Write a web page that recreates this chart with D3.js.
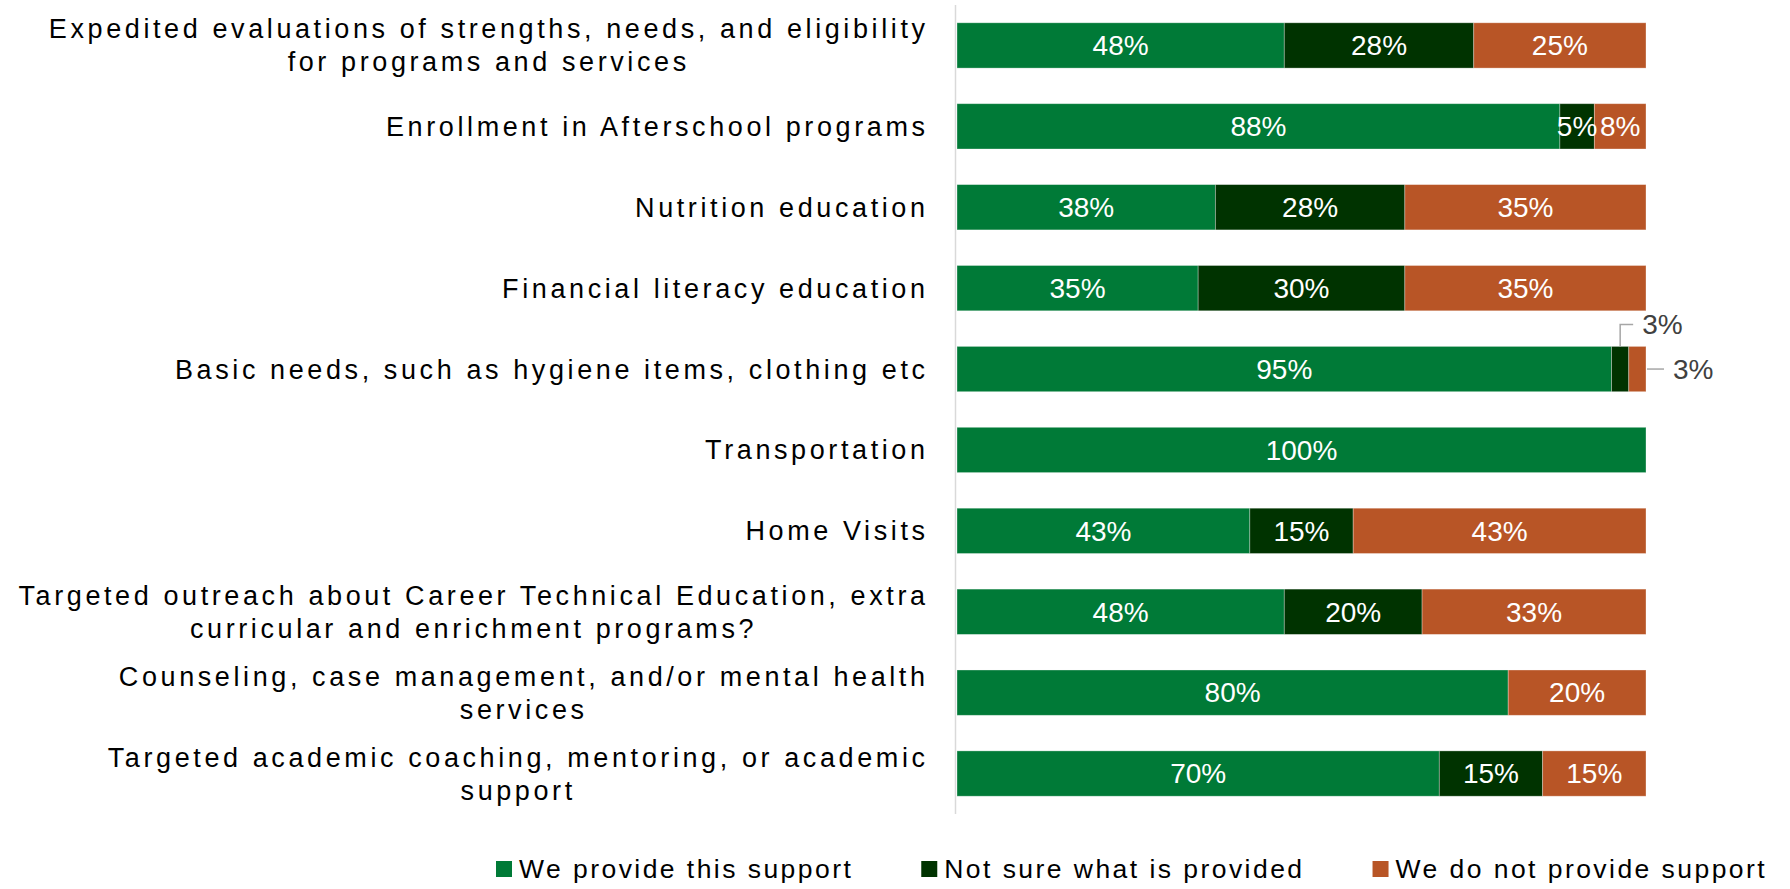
<!DOCTYPE html>
<html>
<head>
<meta charset="utf-8">
<script src="https://cdn.jsdelivr.net/npm/d3@7"></script>
<style>
  body { margin: 0; background: #fff; }
  svg { display: block; font-family: "Liberation Sans", Arial, sans-serif; }
</style>
</head>
<body>
<svg id="chart" width="1790" height="889"></svg>
<script>
/*
 * Chart data
 * ========================================================================== */

// Category labels, "\n" marks a line break
const categories = [
  'Expedited evaluations of strengths, needs, and eligibility\nfor programs and services',
  'Enrollment in Afterschool programs',
  'Nutrition education',
  'Financial literacy education',
  'Basic needs, such as hygiene items, clothing etc',
  'Transportation',
  'Home Visits',
  'Targeted outreach about Career Technical Education, extra\ncurricular and enrichment programs?',
  'Counseling, case management, and/or mental health\nservices',
  'Targeted academic coaching, mentoring, or academic\nsupport'
];

const seriesNames = ['We provide this support', 'Not sure what is provided', 'We do not provide support'];

// Shares in percent (labels show them rounded)
const provided    = [47.5, 87.5, 37.5, 35, 95,  100, 42.5, 47.5, 80, 70];
const notSure     = [27.5,  5,   27.5, 30,  2.5,  0, 15,   20,    0, 15];
const notProvided = [25,    7.5, 35,   35,  2.5,  0, 42.5, 32.5, 20, 15];

const colors = ['#007a37', '#003300', '#b85526'];

/*
 * Layout
 * ========================================================================== */

const svg = d3.select('#chart');
const LABEL_RIGHT = 925,
      AXIS_X = 955.5,
      BAR_LEFT = 957,
      BAR_RIGHT = 1646;

const rows = categories.map((c, i) => {
  const vals = [provided[i], notSure[i], notProvided[i]];
  const total = d3.sum(vals);
  let acc = 0;
  const segs = vals.map((v, k) => {
    const s = { row: i, key: k, value: v, x0: acc / total, x1: (acc + v) / total };
    acc += v;
    return s;
  });
  return { name: c, segs: segs };
});

const y = d3.scaleBand()
  .domain(categories)
  .range([5, 814])
  .paddingInner(0.44)
  .paddingOuter(0.22);

const x = d3.scaleLinear()
  .domain([0, 1])
  .range([BAR_LEFT, BAR_RIGHT]);

const color = d3.scaleOrdinal().domain(d3.range(3)).range(colors);
const pct = v => Math.round(v) + '%';

// Vertical axis line
svg.append('line')
  .attr('x1', AXIS_X).attr('x2', AXIS_X)
  .attr('y1', y.range()[0]).attr('y2', y.range()[1])
  .attr('stroke', '#d9d9d9')
  .attr('stroke-width', 1.5);

// Category labels
const LS = 3.6;
const labels = svg.append('g').attr('class', 'labels')
  .selectAll('text')
  .data(categories)
  .enter().append('text')
    .attr('font-size', 27)
    .attr('letter-spacing', LS)
    .attr('fill', '#000');

labels.each(function(d) {
  const t = d3.select(this);
  const lines = d.split('\n');
  const cy = y(d) + y.bandwidth() / 2;
  const tspans = lines.map((l, j) => t.append('tspan')
    .attr('y', cy + (j - (lines.length - 1) / 2) * 33)
    .attr('dy', '0.35em')
    .text(l));
  if (lines.length === 1) {
    t.attr('text-anchor', 'end');
    tspans[0].attr('x', LABEL_RIGHT + LS);
  } else {
    const maxW = d3.max(tspans, s => s.node().getComputedTextLength());
    t.attr('text-anchor', 'middle');
    tspans.forEach(s => s.attr('x', LABEL_RIGHT + LS - maxW / 2));
  }
});

// Bars
const bars = svg.append('g').attr('class', 'bars')
  .selectAll('g.row')
  .data(rows)
  .enter().append('g')
    .attr('class', 'row');

bars.selectAll('rect')
  .data(d => d.segs.filter(s => s.value > 0))
  .enter().append('rect')
    .attr('x', s => x(s.x0))
    .attr('y', s => y(categories[s.row]))
    .attr('width', s => x(s.x1) - x(s.x0))
    .attr('height', y.bandwidth())
    .attr('fill', s => color(s.key))
    .attr('stroke', '#fff')
    .attr('stroke-opacity', 0.4)
    .attr('stroke-width', 0.8);

// Labels inside the bars
const inside = s => s.value > 4;
bars.selectAll('text.val')
  .data(d => d.segs.filter(s => s.value > 0 && inside(s)))
  .enter().append('text')
    .attr('class', 'val')
    .attr('x', s => (x(s.x0) + x(s.x1)) / 2)
    .attr('y', s => y(categories[s.row]) + y.bandwidth() / 2)
    .attr('dy', '0.35em')
    .attr('text-anchor', 'middle')
    .attr('font-size', 28)
    .attr('fill', '#fff')
    .text(s => pct(s.value));

// Small segments get callouts with leader lines
const callouts = rows.flatMap(r => r.segs.filter(s => s.value > 0 && !inside(s)));
callouts.forEach(s => {
  const top = y(categories[s.row]);
  const mid = top + y.bandwidth() / 2;
  const last = x(s.x1) >= BAR_RIGHT - 0.5;
  let path, tx, ty;
  if (!last) {
    const cx = (x(s.x0) + x(s.x1)) / 2;
    path = [[cx, top], [cx, top - 22], [cx + 13, top - 22]];
    tx = cx + 22; ty = top - 22;
  } else {
    path = [[x(s.x1) + 1, mid], [x(s.x1) + 18, mid]];
    tx = x(s.x1) + 27; ty = mid;
  }
  svg.append('path')
    .attr('d', d3.line()(path))
    .attr('fill', 'none')
    .attr('stroke', '#a6a6a6')
    .attr('stroke-width', 1.5);
  svg.append('text')
    .attr('x', tx)
    .attr('y', ty)
    .attr('dy', '0.35em')
    .attr('font-size', 28)
    .attr('fill', '#404040')
    .text(pct(s.value));
});

/*
 * Legend
 * ========================================================================== */

const legend = svg.append('g').attr('class', 'legend');
let lx = 496;
const LEG_Y = 869;
seriesNames.forEach((name, k) => {
  legend.append('rect')
    .attr('x', lx).attr('y', LEG_Y - 8)
    .attr('width', 16).attr('height', 16)
    .attr('fill', color(k));
  const t = legend.append('text')
    .attr('x', lx + 23)
    .attr('y', LEG_Y)
    .attr('dy', '0.35em')
    .attr('font-size', 26.5)
    .attr('letter-spacing', 2.45)
    .attr('fill', '#000')
    .text(name);
  lx += 23 + t.node().getComputedTextLength() + 68;
});
</script>
</body>
</html>
